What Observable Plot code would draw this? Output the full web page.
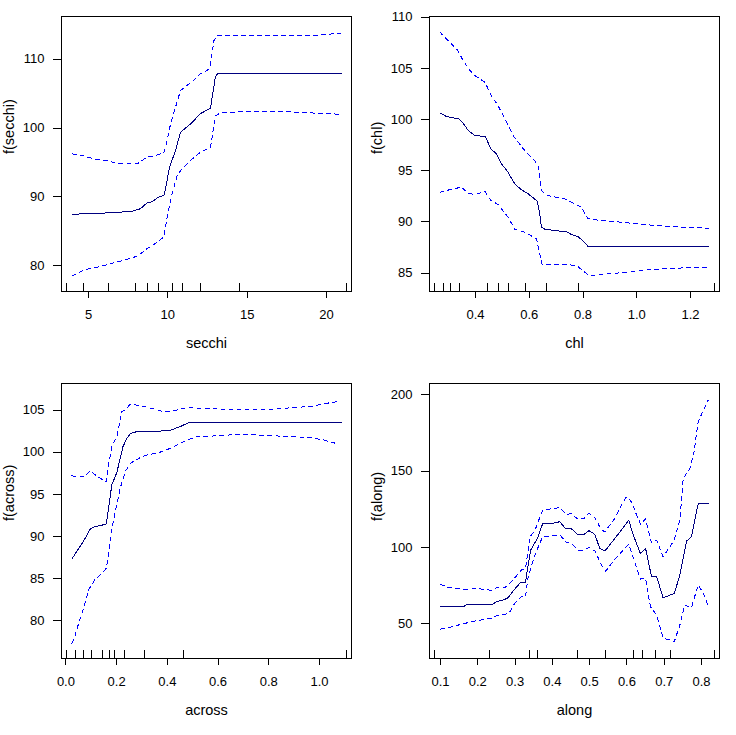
<!DOCTYPE html>
<html>
<head>
<meta charset="utf-8">
<script src="https://cdn.jsdelivr.net/npm/d3@7"></script>
<script src="https://cdn.jsdelivr.net/npm/@observablehq/plot@0.6"></script>
<style>
  html, body { margin: 0; padding: 0; background: #fff; }
  #grid { position: relative; width: 736px; height: 735px; }
  #grid > div { position: absolute; width: 368px; height: 368px; }
  svg { shape-rendering: crispEdges; }
</style>
</head>
<body>
<div id="grid">
  <div id="p1" style="left:0;top:0"></div>
  <div id="p2" style="left:368px;top:0"></div>
  <div id="p3" style="left:0;top:367px"></div>
  <div id="p4" style="left:368px;top:367px"></div>
</div>
<script>
// ---- secchi: [x, f(x)] pairs for fit and pointwise bands ----
const secchiFit = [[3.97,87.4],[4.5,87.55],[5.55,87.6],[7.0,87.8],[7.75,87.9],[8.28,88.3],[8.7,89.15],[9.0,89.3],[9.43,90.0],[9.75,90.2],[9.9,91.7],[10.1,94.3],[10.48,96.7],[10.8,99.4],[11.43,100.6],[12.06,102.1],[12.69,102.9],[13.0,107.5],[13.15,107.9],[20.92,107.9]];
const secchiUpper = [[3.97,96.26],[4.7,95.97],[5.34,95.5],[6.18,95.3],[6.7,94.9],[7.44,94.8],[8.07,94.8],[8.7,95.8],[9.22,96.0],[9.75,96.4],[9.96,98.2],[10.17,100.6],[10.48,103.0],[10.8,105.45],[11.2,106.2],[11.53,106.7],[12.06,107.9],[12.65,108.6],[12.9,112.7],[13.15,113.5],[19.6,113.5],[20.92,113.8]];
const secchiLower = [[3.97,78.55],[4.7,79.4],[5.55,79.8],[6.39,80.3],[7.23,80.8],[8.07,81.4],[8.7,82.5],[9.33,83.4],[9.75,84.2],[9.96,87.1],[10.27,90.5],[10.59,93.1],[10.9,94.1],[11.53,95.5],[12.06,96.5],[12.69,97.2],[13.0,101.8],[13.32,102.2],[15.0,102.4],[17.3,102.4],[19.0,102.2],[20.92,102.0]];
const secchiRug = [3.64,4.68,6.29,7.99,8.72,9.44,10.29,10.95,12.06,14.51,21.28];
const secchiXTicks = [5,10,15,20];
const secchiYTicks = [80,90,100,110];

// ---- chl ----
const chlFit = [[0.2675,100.66],[0.292,100.3],[0.317,100.17],[0.338,100.07],[0.354,99.65],[0.373,98.93],[0.398,98.44],[0.437,98.35],[0.457,97.14],[0.478,96.65],[0.497,95.68],[0.521,94.86],[0.546,93.72],[0.571,93.14],[0.596,92.75],[0.63,92.03],[0.639,90.8],[0.645,89.49],[0.658,89.3],[0.695,89.17],[0.738,89.04],[0.757,88.78],[0.781,88.58],[0.804,88.06],[0.819,87.6],[1.267,87.6]];
const chlUpper = [[0.2675,108.54],[0.292,107.88],[0.333,106.81],[0.354,105.77],[0.379,104.79],[0.398,104.3],[0.435,103.65],[0.462,102.19],[0.484,101.37],[0.509,100.07],[0.544,98.28],[0.583,96.98],[0.62,96.0],[0.635,95.35],[0.645,93.07],[0.67,92.58],[0.732,92.26],[0.769,91.77],[0.794,91.45],[0.819,90.31],[0.868,90.14],[0.942,89.98],[1.029,89.75],[1.116,89.56],[1.267,89.39]];
const chlLower = [[0.2675,92.91],[0.311,93.2],[0.348,93.4],[0.373,92.81],[0.398,92.68],[0.435,92.98],[0.457,92.1],[0.484,91.71],[0.521,90.47],[0.546,89.3],[0.583,89.0],[0.627,88.35],[0.639,86.89],[0.648,85.85],[0.744,85.85],[0.781,85.65],[0.806,85.1],[0.825,84.74],[0.893,84.93],[0.98,85.13],[1.054,85.36],[1.178,85.52],[1.267,85.59]];
const chlRug = [0.249,0.2824,0.307,0.3405,0.4447,0.4871,0.5243,0.585,0.6657,0.7833,1.2908];
const chlXTicks = [0.4,0.6,0.8,1.0,1.2];
const chlYTicks = [85,90,95,100,105,110];

// ---- across ----
const acrossFit = [[0.0237,87.33],[0.0434,88.28],[0.067,89.31],[0.083,90.18],[0.096,90.9],[0.112,91.17],[0.135,91.29],[0.159,91.49],[0.168,93.35],[0.181,96.13],[0.201,97.63],[0.225,100.68],[0.241,101.67],[0.254,102.23],[0.28,102.46],[0.346,102.46],[0.412,102.62],[0.451,103.06],[0.484,103.53],[0.53,103.53],[1.085,103.53]];
const acrossUpper = [[0.0237,97.23],[0.05,97.04],[0.076,97.2],[0.096,97.83],[0.116,97.31],[0.135,96.92],[0.159,96.52],[0.168,98.5],[0.181,100.68],[0.201,101.87],[0.221,104.84],[0.234,105.04],[0.254,105.71],[0.293,105.55],[0.333,105.24],[0.385,104.84],[0.425,104.92],[0.477,105.32],[0.53,105.24],[0.661,105.04],[0.793,105.04],[0.898,105.32],[0.964,105.44],[1.03,105.83],[1.076,106.03]];
const acrossLower = [[0.0237,77.3],[0.0368,78.3],[0.05,79.68],[0.07,81.47],[0.089,83.64],[0.116,84.95],[0.135,85.43],[0.159,86.22],[0.168,87.8],[0.181,90.97],[0.195,92.96],[0.214,95.73],[0.234,97.71],[0.254,98.7],[0.293,99.37],[0.32,99.69],[0.359,99.89],[0.398,100.29],[0.438,100.88],[0.477,101.47],[0.517,101.87],[0.596,101.95],[0.688,102.15],[0.793,101.99],[0.885,101.87],[0.964,101.75],[1.016,101.47],[1.076,100.96]];
const acrossRug = [0.004,0.039,0.069,0.101,0.146,0.172,0.192,0.231,0.31,0.464,1.108];
const acrossXTicks = [0,0.2,0.4,0.6,0.8,1.0];
const acrossYTicks = [80,85,90,95,100,105];

// ---- along ----
const alongFit = [[0.1,61.1],[0.161,61.1],[0.17,62.4],[0.237,62.4],[0.25,64.4],[0.268,65.5],[0.281,67.0],[0.299,72.7],[0.315,77.1],[0.328,77.1],[0.335,88.5],[0.342,98.3],[0.36,106.0],[0.374,115.6],[0.398,115.6],[0.42,116.9],[0.435,112.5],[0.451,112.3],[0.467,108.6],[0.485,108.6],[0.498,111.0],[0.514,108.6],[0.527,99.4],[0.541,97.7],[0.568,106.0],[0.59,113.0],[0.605,117.8],[0.617,108.2],[0.636,96.1],[0.65,99.4],[0.666,80.8],[0.68,80.8],[0.697,67.0],[0.727,69.9],[0.742,81.9],[0.76,104.2],[0.773,107.1],[0.791,128.5],[0.82,128.5]];
const alongUpper = [[0.1,75.8],[0.121,73.8],[0.161,72.5],[0.201,73.0],[0.237,71.9],[0.25,73.6],[0.273,73.8],[0.29,77.5],[0.317,85.2],[0.328,86.3],[0.34,107.1],[0.353,111.0],[0.374,124.6],[0.42,126.1],[0.438,121.7],[0.451,122.2],[0.469,118.4],[0.485,119.1],[0.498,122.4],[0.514,119.5],[0.532,111.4],[0.541,110.3],[0.568,119.1],[0.585,127.8],[0.599,133.3],[0.612,130.0],[0.626,121.3],[0.637,115.2],[0.65,118.7],[0.666,103.1],[0.68,104.9],[0.697,93.9],[0.727,104.9],[0.742,118.0],[0.751,145.3],[0.769,151.9],[0.78,162.8],[0.791,182.5],[0.818,196.7]];
const alongLower = [[0.1,46.5],[0.13,48.0],[0.165,50.2],[0.201,52.2],[0.237,53.5],[0.25,55.2],[0.273,56.1],[0.286,57.9],[0.299,63.3],[0.317,67.7],[0.328,67.7],[0.335,80.8],[0.353,95.0],[0.374,107.1],[0.42,108.2],[0.438,103.3],[0.451,102.7],[0.469,98.3],[0.485,98.3],[0.498,100.1],[0.514,97.7],[0.532,88.5],[0.543,84.5],[0.568,92.4],[0.59,98.3],[0.605,102.0],[0.621,90.7],[0.636,79.3],[0.65,79.7],[0.663,61.1],[0.68,55.7],[0.697,40.4],[0.715,39.3],[0.727,38.2],[0.742,49.1],[0.755,62.2],[0.773,60.5],[0.791,75.4],[0.804,70.5],[0.818,61.8]];
const alongRug = [0.085,0.2325,0.3387,0.3601,0.4674,0.5425,0.6176,0.6418,0.6766,0.7169,0.836];
const alongXTicks = [0.1,0.2,0.3,0.4,0.5,0.6,0.7,0.8];
const alongYTicks = [50,100,150,200];

const FIT_COLOR = "#000080";
const BAND_COLOR = "#0000ff";
const FONT = "'Liberation Sans', Arial, Helvetica, sans-serif";

function panel(el, {name, fit, upper, lower, rug, xDomain, yDomain, xTicks, yTicks, xFormat, yFormat}) {
  const W = 368, H = 368, mt = 16, mb = 77;
  const frameH = H - mt - mb;
  const xy = {x: d => d[0], y: d => d[1]};
  const chart = Plot.plot({
    width: W,
    height: H,
    marginLeft: 61,
    marginRight: 17,
    marginTop: mt,
    marginBottom: mb,
    style: {fontFamily: FONT, fontSize: "13px", color: "#000", background: "#fff"},
    x: {domain: xDomain},
    y: {domain: yDomain},
    marks: [
      Plot.frame({stroke: "#000"}),
      Plot.axisX(xTicks, {anchor: "bottom", tickSize: 7, tickPadding: 11, tickFormat: xFormat, label: null}),
      Plot.axisY(yTicks, {anchor: "left", tickSize: 8, tickPadding: 9, tickFormat: yFormat, label: null}),
      Plot.ruleX(rug, {x: d => d, insetTop: frameH - 8, stroke: "#000"}),
      Plot.line(upper, {...xy, stroke: BAND_COLOR, strokeWidth: 1, strokeDasharray: "4,4"}),
      Plot.line(lower, {...xy, stroke: BAND_COLOR, strokeWidth: 1, strokeDasharray: "4,4"}),
      Plot.line(fit, {...xy, stroke: FIT_COLOR, strokeWidth: 1}),
      Plot.text([name], {frameAnchor: "bottom", dy: 52, lineAnchor: "middle", fontSize: 14.5}),
      Plot.text([`f(${name})`], {frameAnchor: "left", dx: -52, rotate: -90, lineAnchor: "middle", fontSize: 14.5})
    ]
  });
  document.getElementById(el).appendChild(chart);
}

const f1 = d3.format(".1f");
const fInt = d3.format("d");

panel("p1", {name: "secchi", fit: secchiFit, upper: secchiUpper, lower: secchiLower, rug: secchiRug,
  xDomain: [3.298, 21.576], yDomain: [76.27, 116.2], xTicks: secchiXTicks, yTicks: secchiYTicks, xFormat: fInt, yFormat: fInt});
panel("p2", {name: "chl", fit: chlFit, upper: chlUpper, lower: chlLower, rug: chlRug,
  xDomain: [0.2288, 1.3079], yDomain: [83.21, 110.07], xTicks: chlXTicks, yTicks: chlYTicks, xFormat: f1, yFormat: fInt});
panel("p3", {name: "across", fit: acrossFit, upper: acrossUpper, lower: acrossLower, rug: acrossRug,
  xDomain: [-0.0174, 1.1262], yDomain: [75.52, 108.17], xTicks: acrossXTicks, yTicks: acrossYTicks, xFormat: f1, yFormat: fInt});
panel("p4", {name: "along", fit: alongFit, upper: alongUpper, lower: alongLower, rug: alongRug,
  xDomain: [0.0705, 0.8483], yDomain: [27.2, 207.5], xTicks: alongXTicks, yTicks: alongYTicks, xFormat: f1, yFormat: fInt});
</script>
</body>
</html>
